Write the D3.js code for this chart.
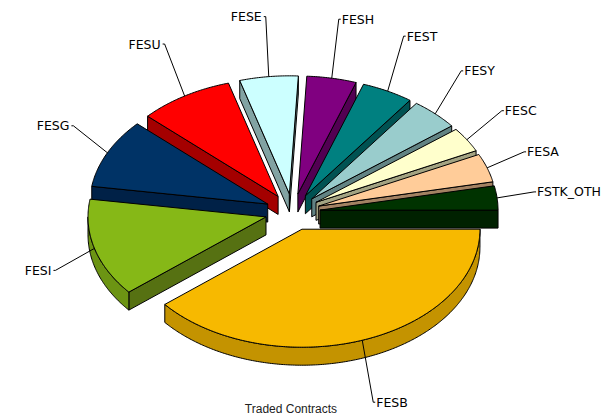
<!DOCTYPE html>
<html>
<head>
<meta charset="utf-8">
<script src="https://cdn.jsdelivr.net/npm/d3@7/dist/d3.min.js"></script>
<style>html,body{margin:0;padding:0;background:#fff}svg{display:block}</style>
</head>
<body>
<svg id="chart" width="616" height="417"></svg>
<script>
const categories = ["FESB","FESI","FESG","FESU","FESE","FESH","FEST","FESY","FESC","FESA","FSTK_OTH"];
const values = [39.0,13.4,9.5,8.6,5.3,4.5,4.7,4.4,3.4,3.9,3.3];
const topColors = ["#F7B900","#86B817","#003366","#FF0000","#CCFFFF","#800080","#008080","#99CCCC","#FFFFCC","#FFCC99","#003300"];
const wallColors = ["#C49300","#567112","#002147","#A40000","#82A3A3","#520052","#005252","#628383","#A3A382","#A38262","#002100"];
const rimColors = ["#C49300","#6C9413","#002147","#A40000","#82A3A3","#520052","#005252","#628383","#A3A382","#A38262","#002100"];
const leaderDx = [11,-39,-34,-20,-3,7,16,26,35,37,37];
const leaderDy = [62,22,-27,-52,-60,-59,-55,-43,-29,-16,-6];

const svg = d3.select("#chart");
const cx = 292.6, cy = 212, rx = 178, ry = 118, depth = 18, explode = 0.155;
const x = d3.scaleLinear().domain([-1,1]).range([cx-rx,cx+rx]);
const y = d3.scaleLinear().domain([-1,1]).range([cy-ry,cy+ry]);
const pie = d3.pie().sort(null).startAngle(Math.PI/2).endAngle(Math.PI*2.5);
const arcs = pie(values).map((d,i)=>{
  const mid=(d.startAngle+d.endAngle)/2;
  return {...d,i,mid,ux:explode*Math.sin(mid),uy:-explode*Math.cos(mid)};
});
const pt=(s,a,dz=0)=>[x(s.ux+Math.sin(a)),y(s.uy-Math.cos(a))+dz];
const apex=(s,dz=0)=>[x(s.ux),y(s.uy)+dz];
const sample=(s,a0,a1,dz=0)=>{
  const n=Math.max(2,Math.ceil((a1-a0)/0.01));
  return d3.range(n+1).map(k=>pt(s,a0+(a1-a0)*k/n,dz));
};
const line=d3.line();
function poly(g,pts,fill){
  g.append("path").attr("d",line(pts)+"Z").attr("fill",fill)
   .attr("stroke","#000").attr("stroke-width",1).attr("stroke-linejoin","round");
}
const order=arcs.slice().sort((a,b)=>a.uy-b.uy);
const east=Math.PI/2;
order.forEach(s=>{
  const g=svg.append("g");
  const a0=s.startAngle,a1=s.endAngle;
  const t0=a0-east,t1=a1-east;
  if(Math.sin(t0-Math.PI/2)>0){
    poly(g,[apex(s),pt(s,a0),pt(s,a0,depth),apex(s,depth)],wallColors[s.i]);
  }
  if(Math.cos(t1)>0){
    poly(g,[apex(s),pt(s,a1),pt(s,a1,depth),apex(s,depth)],wallColors[s.i]);
  }
  const lo=Math.max(t0,0),hi=Math.min(t1,Math.PI);
  if(hi>lo){
    const top=sample(s,lo+east,hi+east);
    const bot=sample(s,lo+east,hi+east,depth).reverse();
    poly(g,top.concat(bot),rimColors[s.i]);
  }
  poly(g,[apex(s)].concat(sample(s,a0,a1)),topColors[s.i]);
});
const labels=svg.append("g");
arcs.forEach(s=>{
  const start=pt(s,s.mid);
  const end=[start[0]+leaderDx[s.i],start[1]+leaderDy[s.i]];
  const left=leaderDx[s.i]<0;
  const stub=[end[0]+(left?-2:2),end[1]];
  labels.append("path").attr("d",line([start,end,stub])).attr("fill","none").attr("stroke","#000").attr("stroke-width",1);
  labels.append("text").attr("x",stub[0]+(left?-2:1)).attr("y",end[1]+4.5)
    .attr("text-anchor",left?"end":"start")
    .attr("font-family","'DejaVu Sans'").attr("font-size",12.5).attr("fill","#000").text(categories[s.i]);
});
svg.append("text").attr("x",291).attr("y",413).attr("text-anchor","middle")
  .attr("font-family","'Liberation Sans'").attr("font-size",12).attr("fill","#222").text("Traded Contracts");
</script>
</body>
</html>
